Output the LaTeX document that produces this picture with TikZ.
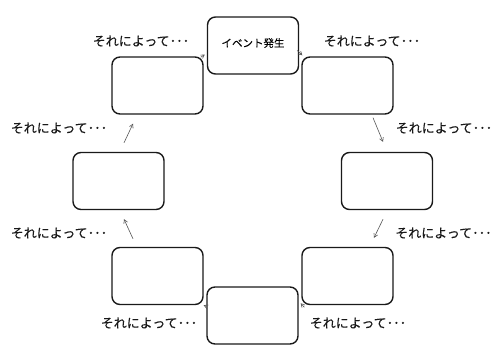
\documentclass[tikz,border=0pt]{standalone}
\usepackage{fontspec}
\newfontfamily\jpfont[FakeBold=0.2]{Noto Sans CJK JP}
\usetikzlibrary{arrows.meta}
\definecolor{boxline}{HTML}{1A1A1A}
\definecolor{arrline}{HTML}{555555}
\tikzset{
  card/.style={draw=boxline, line width=1.4pt, rounded corners=8pt, minimum width=91pt, minimum height=57pt, inner sep=0pt, fill=white},
  lbl/.style={font=\jpfont\fontsize{13}{15}\selectfont, inner sep=0pt, text=black!90},
  link/.style={draw=arrline, line width=0.6pt, -{Straight Barb[length=3.5pt,width=4pt]}},
}
\begin{document}
\begin{tikzpicture}[x=1pt,y=-1pt]
\useasboundingbox (0,0) rectangle (501,360);
\node[card] (ev) at (253,45.5) {};
\node[font=\jpfont\fontsize{10.5}{12}\selectfont, inner sep=0pt] (evt) at (253,43) {イベント発生};
\node[card] (ur) at (347.5,85.5) {};
\node[card] (r)  at (387,181) {};
\node[card] (lr) at (347.5,276) {};
\node[card] (b)  at (252.5,315.5) {};
\node[card] (ll) at (157.5,276) {};
\node[card] (l)  at (118.5,181) {};
\node[card] (ul) at (157.5,85.5) {};

\node[lbl] (t1) at (141,41) {それによって･･･};
\node[lbl] (t2) at (372,41) {それによって･･･};
\node[lbl] (t3) at (59,128) {それによって･･･};
\node[lbl] (t4) at (444,128) {それによって･･･};
\node[lbl] (t5) at (59,233) {それによって･･･};
\node[lbl] (t6) at (443.5,233) {それによって･･･};
\node[lbl] (t7) at (149,323) {それによって･･･};
\node[lbl] (t8) at (358,323) {それによって･･･};

\draw[link] ([shift={(-3,1)}]ul.north east) -- ([shift={(-2,9)}]ev.west);
\draw[link] ([shift={(-2,5)}]ev.east) -- ([shift={(1,-1)}]ur.north west);
\draw[link] ([shift={(25.5,3)}]ur.south) -- ([shift={(-4,-10)}]r.north);
\draw[link] ([shift={(-4,9)}]r.south) -- ([shift={(26.5,-9)}]lr.north);
\draw[link] ([shift={(3,2)}]lr.south west) -- ([shift={(2,17)}]b.north east);
\draw[link] ([shift={(0,20)}]b.north west) -- ([shift={(0,0)}]ll.south east);
\draw[link] ([shift={(-24.5,-8)}]ll.north) -- ([shift={(5.5,9)}]l.south);
\draw[link] ([shift={(5.5,-9)}]l.north) -- ([shift={(-24.5,9)}]ul.south);
\end{tikzpicture}
\end{document}
